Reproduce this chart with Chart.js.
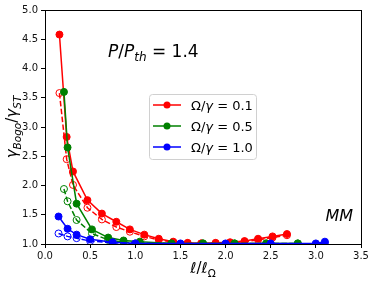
<!DOCTYPE html>
<html lang="en">
<head>
    <meta charset="UTF-8">
    <title>Bogoliubov / ST ratio</title>
    <script src="https://cdn.jsdelivr.net/npm/chart.js"></script>
    <style>
        body { margin: 0; background: #fff; }
        #wrap { width: 374px; height: 283px; }
    </style>
</head>
<body>
    <div id="wrap"><canvas id="ratioChart" width="374" height="283"></canvas></div>

    <script>
        // values
        var redX = [0.16, 0.24, 0.31, 0.47, 0.63, 0.79, 0.94, 1.10, 1.26, 1.42, 1.58, 1.73, 1.89, 2.05, 2.21, 2.36, 2.52, 2.68];
        var redSolid = [4.58, 2.83, 2.24, 1.75, 1.52, 1.38, 1.25, 1.16, 1.09, 1.04, 1.02, 1.01, 1.02, 1.03, 1.05, 1.09, 1.13, 1.17];
        var redDashed = [3.58, 2.45, 2.01, 1.62, 1.42, 1.29, 1.21, 1.13, 1.07, 1.03, 1.01, 1.01, 1.01, 1.02, 1.04, 1.07, 1.11, 1.15];

        var greenX = [0.21, 0.25, 0.35, 0.52, 0.70, 0.87, 1.05, 1.40, 1.75, 2.10, 2.45, 2.80];
        var greenSolid = [3.60, 2.65, 1.69, 1.25, 1.11, 1.06, 1.04, 1.01, 1.01, 1.01, 1.01, 1.01];
        var greenDashed = [1.94, 1.73, 1.41, 1.18, 1.07, 1.03, 1.02, 1.01, 1.01, 1.01, 1.01, 1.01];

        var blueX = [0.15, 0.25, 0.35, 0.50, 0.75, 1.00, 1.50, 2.00, 2.50, 3.00, 3.10];
        var blueSolid = [1.47, 1.26, 1.16, 1.08, 1.03, 1.01, 1.01, 1.01, 1.01, 1.01, 1.04];
        var blueDashed = [1.18, 1.13, 1.10, 1.05, 1.02, 1.01, 1.00, 1.00, 1.00, 1.00, 1.02];

        var legendLabels = ["0.1", "0.5", "1.0"];
        var legendColors = ["#ff0000", "#008000", "#0000ff"];

        function pts(xs, ys) {
            return xs.map(function(x, i) { return { x: x, y: ys[i] }; });
        }

        function series(xs, ys, color, dashed, order) {
            return {
                data: pts(xs, ys),
                borderColor: color,
                backgroundColor: color,
                borderWidth: 1.5,
                borderDash: dashed ? [5.5, 2.4] : [],
                pointRadius: 3.5,
                pointBorderWidth: 1,
                pointBorderColor: color,
                pointBackgroundColor: dashed ? "rgba(0,0,0,0)" : color,
                tension: 0,
                clip: 0,
                order: order
            };
        }

        // draw a run of text pieces, some italic / subscript
        function richText(ctx, parts, x, y, align) {
            var total = 0;
            parts.forEach(function(p) {
                ctx.font = (p.it ? "italic " : "") + p.size + "px 'DejaVu Sans'";
                p.w = ctx.measureText(p.t).width;
                total += p.w;
            });
            var cx = align === "center" ? x - total / 2 : (align === "right" ? x - total : x);
            ctx.textAlign = "left";
            ctx.textBaseline = "alphabetic";
            parts.forEach(function(p) {
                ctx.font = (p.it ? "italic " : "") + p.size + "px 'DejaVu Sans'";
                ctx.fillText(p.t, cx, y + (p.sub ? p.size * 0.35 : 0));
                cx += p.w;
            });
        }

        var decor = {
            id: "decor",
            afterDraw: function(chart) {
                var ctx = chart.ctx;
                var a = chart.chartArea;
                ctx.save();
                ctx.strokeStyle = "#000";
                ctx.lineWidth = 1;
                ctx.strokeRect(a.left + 0.5, a.top + 0.5, a.right - a.left, a.bottom - a.top);
                ctx.fillStyle = "#000";

                // axis titles
                richText(ctx, [
                    { t: "ℓ", size: 15, it: true },
                    { t: "/", size: 15 },
                    { t: "ℓ", size: 15, it: true },
                    { t: "Ω", size: 10.5, sub: true }
                ], (a.left + a.right) / 2, 273, "center");

                ctx.save();
                ctx.translate(17, (a.top + a.bottom) / 2);
                ctx.rotate(-Math.PI / 2);
                richText(ctx, [
                    { t: "γ", size: 15, it: true },
                    { t: "Bogo", size: 10.5, it: true, sub: true },
                    { t: "/", size: 15 },
                    { t: "γ", size: 15, it: true },
                    { t: "ST", size: 10.5, it: true, sub: true }
                ], 0, 0, "center");
                ctx.restore();

                // annotations
                richText(ctx, [
                    { t: "P", size: 17, it: true },
                    { t: "/", size: 17 },
                    { t: "P", size: 17, it: true },
                    { t: "th", size: 12, it: true, sub: true },
                    { t: " = 1.4", size: 17 }
                ], 108, 57, "left");
                richText(ctx, [{ t: "MM", size: 16, it: true }], 353, 221, "right");

                // legend box
                var bx = 149.5, by = 94.5, bw = 107, bh = 65, r = 3;
                ctx.beginPath();
                ctx.moveTo(bx + r, by);
                ctx.arcTo(bx + bw, by, bx + bw, by + bh, r);
                ctx.arcTo(bx + bw, by + bh, bx, by + bh, r);
                ctx.arcTo(bx, by + bh, bx, by, r);
                ctx.arcTo(bx, by, bx + bw, by, r);
                ctx.closePath();
                ctx.fillStyle = "rgba(255,255,255,0.8)";
                ctx.fill();
                ctx.strokeStyle = "#d0d0d0";
                ctx.stroke();

                legendLabels.forEach(function(lab, i) {
                    var ly = 105 + i * 21;
                    ctx.strokeStyle = legendColors[i];
                    ctx.lineWidth = 1.5;
                    ctx.beginPath();
                    ctx.moveTo(153, ly);
                    ctx.lineTo(181, ly);
                    ctx.stroke();
                    ctx.fillStyle = legendColors[i];
                    ctx.beginPath();
                    ctx.arc(167, ly, 3.5, 0, Math.PI * 2);
                    ctx.fill();
                    ctx.fillStyle = "#000";
                    richText(ctx, [
                        { t: "Ω/", size: 13 },
                        { t: "γ", size: 13, it: true },
                        { t: " = " + lab, size: 13 }
                    ], 191, ly + 5, "left");
                });
                ctx.restore();
            }
        };

        var tickFont = { family: "'DejaVu Sans'", size: 10 };

        new Chart(document.getElementById("ratioChart"), {
            type: "line",
            data: {
                datasets: [
                    series(redX, redSolid, "#ff0000", false, 5),
                    series(redX, redDashed, "#ff0000", true, 4),
                    series(greenX, greenSolid, "#008000", false, 3),
                    series(greenX, greenDashed, "#008000", true, 2),
                    series(blueX, blueSolid, "#0000ff", false, 1),
                    series(blueX, blueDashed, "#0000ff", true, 0)
                ]
            },
            options: {
                responsive: false,
                animation: false,
                layout: { padding: { top: 10, right: 13, left: 0, bottom: 0 } },
                plugins: { legend: { display: false }, tooltip: { enabled: false } },
                scales: {
                    x: {
                        type: "linear",
                        min: 0, max: 3.5,
                        afterFit: function(s) { s.height = 39; },
                        ticks: { stepSize: 0.5, color: "#111", font: tickFont, padding: 2, maxRotation: 0,
                                 callback: function(v) { return v.toFixed(1); } },
                        grid: { drawOnChartArea: false, tickLength: 4, color: "#000" },
                        border: { color: "#000" }
                    },
                    y: {
                        min: 1, max: 5,
                        afterFit: function(s) { s.width = 45; },
                        ticks: { stepSize: 0.5, color: "#111", font: tickFont, padding: 3,
                                 callback: function(v) { return v.toFixed(1); } },
                        grid: { drawOnChartArea: false, tickLength: 4, color: "#000" },
                        border: { color: "#000" }
                    }
                }
            },
            plugins: [decor]
        });
    </script>
</body>
</html>
